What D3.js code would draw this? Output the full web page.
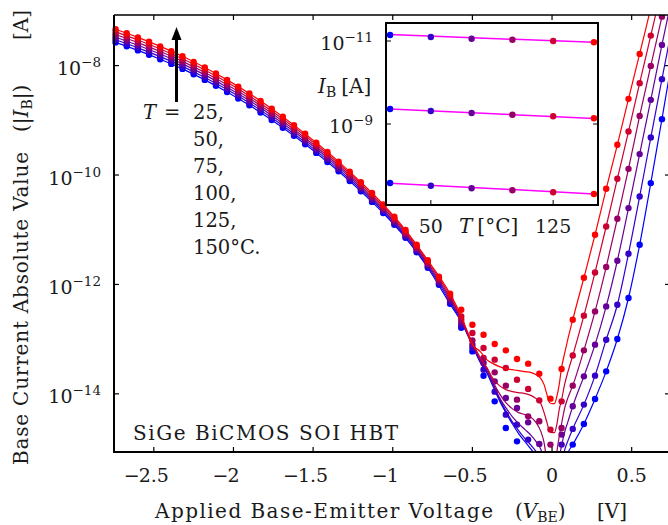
<!DOCTYPE html>
<html>
<head>
<meta charset="utf-8">
<script src="https://cdn.jsdelivr.net/npm/d3@7"></script>
<style>
  body { margin: 0; background: #fff; }
  svg text { font-family: "DejaVu Serif", "Liberation Serif", serif; fill: #1a1a1a; }
</style>
</head>
<body>
<svg id="chart" width="668" height="525"></svg>
<script>
// ---- measured base current, log10(|I_B| / A), per temperature ----
const temps = [25, 50, 75, 100, 125, 150];
const vMeas = [-2.74, -2.67, -2.60, -2.53, -2.46, -2.39, -2.32, -2.25, -2.18, -2.11,
  -2.04, -1.97, -1.90, -1.83, -1.76, -1.69, -1.62, -1.55, -1.48, -1.41,
  -1.34, -1.27, -1.20, -1.13, -1.06, -0.99, -0.92, -0.85, -0.78, -0.71,
  -0.64, -0.57, -0.50, -0.43, -0.36, -0.29, -0.22, -0.15, -0.08, -0.01,
  0.06, 0.13, 0.20, 0.27, 0.34, 0.41, 0.48, 0.55, 0.62, 0.69];

const meas25 = [-7.576, -7.648, -7.722, -7.801, -7.883, -7.969, -8.060, -8.159, -8.261, -8.369,
  -8.482, -8.601, -8.725, -8.857, -8.994, -9.136, -9.284, -9.437, -9.596, -9.761,
  -9.932, -10.111, -10.298, -10.491, -10.694, -10.910, -11.147, -11.412, -11.695, -12.006,
  -12.353, -12.791, -13.224, -13.668, -14.137, -14.623, -14.868, -15.30, -15.50, -15.60,
  -15.30, -14.928, -14.550, -14.093, -13.589, -12.997, -12.248, -11.275, -10.148, -8.979];
const meas50 = [-7.528, -7.600, -7.675, -7.754, -7.836, -7.923, -8.014, -8.113, -8.216, -8.324,
  -8.438, -8.558, -8.682, -8.815, -8.953, -9.096, -9.245, -9.399, -9.559, -9.725,
  -9.897, -10.077, -10.265, -10.459, -10.663, -10.881, -11.119, -11.385, -11.668, -11.977,
  -12.317, -12.754, -13.156, -13.558, -13.960, -14.380, -14.563, -14.836, -15.20, -15.40,
  -14.928, -14.641, -14.197, -13.667, -13.010, -12.371, -11.439, -10.393, -9.315, -8.248];
const meas75 = [-7.480, -7.552, -7.627, -7.707, -7.789, -7.876, -7.968, -8.068, -8.170, -8.279,
  -8.394, -8.514, -8.640, -8.773, -8.912, -9.056, -9.206, -9.360, -9.521, -9.688,
  -9.861, -10.042, -10.232, -10.427, -10.632, -10.852, -11.091, -11.357, -11.640, -11.948,
  -12.280, -12.705, -13.101, -13.436, -13.772, -14.075, -14.258, -14.521, -14.915, -15.20,
  -14.745, -14.228, -13.680, -13.101, -12.402, -11.567, -10.605, -9.618, -8.626, -7.622];
const meas100 = [-7.431, -7.504, -7.580, -7.660, -7.743, -7.830, -7.922, -8.022, -8.125, -8.234,
  -8.349, -8.471, -8.597, -8.731, -8.871, -9.015, -9.167, -9.322, -9.484, -9.652,
  -9.826, -10.008, -10.198, -10.395, -10.601, -10.822, -11.063, -11.330, -11.613, -11.918,
  -12.244, -12.645, -13.023, -13.344, -13.607, -13.850, -14.106, -14.411, -14.502, -14.928,
  -14.623, -13.850, -13.205, -12.493, -11.682, -10.800, -9.887, -8.919, -8.005, -7.105];
const meas125 = [-7.383, -7.457, -7.532, -7.613, -7.696, -7.783, -7.876, -7.977, -8.080, -8.189,
  -8.305, -8.427, -8.554, -8.689, -8.830, -8.975, -9.128, -9.284, -9.447, -9.615,
  -9.790, -9.974, -10.165, -10.362, -10.570, -10.793, -11.035, -11.302, -11.585, -11.889,
  -12.207, -12.584, -12.888, -13.162, -13.375, -13.527, -13.741, -13.910, -14.119, -14.654,
  -14.137, -13.300, -12.571, -11.781, -10.941, -10.069, -9.205, -8.321, -7.452, -6.600];
const meas150 = [-7.335, -7.409, -7.485, -7.565, -7.649, -7.737, -7.830, -7.931, -8.034, -8.144,
  -8.261, -8.384, -8.511, -8.647, -8.789, -8.935, -9.089, -9.245, -9.410, -9.578,
  -9.755, -9.939, -10.132, -10.330, -10.539, -10.764, -11.006, -11.275, -11.558, -11.860,
  -12.170, -12.462, -12.736, -12.919, -13.089, -13.205, -13.363, -13.448, -13.631, -14.088,
  -13.545, -12.645, -11.878, -11.092, -10.252, -9.448, -8.608, -7.786, -6.950, -6.100];

// ---- model curves, log10(|I_B| / A) ----
const vFit = [-2.74, -2.60, -2.46, -2.32, -2.18, -2.04, -1.90, -1.76, -1.62, -1.48,
  -1.34, -1.20, -1.06, -0.92, -0.78, -0.64, -0.57, -0.50, -0.45, -0.41,
  -0.37, -0.33, -0.29, -0.25, -0.21, -0.17, -0.13, -0.10, -0.07, -0.05,
  -0.03, -0.015, 0.0, 0.015, 0.03, 0.045, 0.06, 0.08, 0.10, 0.13,
  0.20, 0.27, 0.34, 0.41, 0.48, 0.55, 0.62, 0.69, 0.76];

const fit25 = [-7.576, -7.722, -7.883, -8.060, -8.261, -8.482, -8.725, -8.994, -9.284, -9.596,
  -9.932, -10.298, -10.694, -11.147, -11.695, -12.36, -12.681, -13.120, -13.430, -13.613,
  -13.868, -14.124, -14.343, -14.544, -14.727, -14.873, -15.019, -15.129, -15.311, -15.476,
  -15.713, -15.896, -16.115, -16.024, -15.841, -15.659, -15.476, -15.238, -15.074, -14.928,
  -14.550, -14.093, -13.589, -12.997, -12.248, -11.275, -10.148, -8.979, -7.78];
const fit50 = [-7.528, -7.675, -7.836, -8.014, -8.216, -8.438, -8.682, -8.953, -9.245, -9.559,
  -9.897, -10.265, -10.663, -11.119, -11.668, -12.317, -12.663, -13.101, -13.412, -13.595,
  -13.832, -14.088, -14.307, -14.508, -14.672, -14.818, -14.946, -15.056, -15.238, -15.421,
  -15.659, -15.841, -16.024, -15.932, -15.750, -15.476, -15.257, -15.019, -14.855, -14.641,
  -14.197, -13.667, -13.010, -12.371, -11.439, -10.393, -9.315, -8.248, -7.20];
const fit75 = [-7.480, -7.627, -7.789, -7.968, -8.170, -8.394, -8.640, -8.912, -9.206, -9.521,
  -9.861, -10.232, -10.632, -11.091, -11.640, -12.280, -12.645, -13.101, -13.394, -13.558,
  -13.814, -14.069, -14.252, -14.416, -14.544, -14.654, -14.763, -14.873, -15.019, -15.202,
  -15.476, -15.750, -15.932, -15.750, -15.476, -15.165, -14.946, -14.690, -14.508, -14.228,
  -13.680, -13.101, -12.402, -11.567, -10.605, -9.618, -8.626, -7.622, -6.65];
const fit100 = [-7.431, -7.580, -7.743, -7.922, -8.125, -8.349, -8.597, -8.871, -9.167, -9.484,
  -9.826, -10.198, -10.601, -11.063, -11.613, -12.244, -12.626, -13.083, -13.375, -13.521,
  -13.777, -13.996, -14.161, -14.270, -14.343, -14.380, -14.435, -14.526, -14.690, -14.891,
  -15.293, -15.567, -15.750, -15.567, -15.074, -14.782, -14.544, -14.252, -14.069, -13.850,
  -13.205, -12.493, -11.682, -10.800, -9.887, -8.919, -8.005, -7.105, -6.20];
const fit125 = [-7.383, -7.532, -7.696, -7.876, -8.080, -8.305, -8.554, -8.830, -9.128, -9.447,
  -9.790, -10.165, -10.570, -11.035, -11.585, -12.207, -12.608, -13.065, -13.339, -13.521,
  -13.722, -13.850, -13.923, -13.960, -13.978, -13.996, -14.033, -14.088, -14.179, -14.343,
  -14.544, -14.690, -14.709, -14.709, -14.563, -14.289, -14.106, -13.814, -13.595, -13.300,
  -12.571, -11.781, -10.941, -10.069, -9.205, -8.321, -7.452, -6.581, -5.75];
const fit150 = [-7.335, -7.485, -7.649, -7.830, -8.034, -8.261, -8.511, -8.789, -9.089, -9.410,
  -9.755, -10.132, -10.539, -11.006, -11.558, -12.170, -12.572, -13.101, -13.229, -13.375,
  -13.448, -13.503, -13.540, -13.558, -13.576, -13.595, -13.613, -13.649, -13.722, -13.832,
  -14.033, -14.161, -14.179, -14.179, -14.051, -13.832, -13.521, -13.248, -12.992, -12.645,
  -11.878, -11.092, -10.252, -9.448, -8.608, -7.786, -6.946, -6.106, -5.30];

// ---- inset: I_B versus temperature at three bias points ----
const insetT = [25, 50, 75, 100, 125, 150];
const insetLow = [-11.145, -11.096, -11.055, -11.031, -11.000, -10.969];
const insetMid = [-9.361, -9.313, -9.265, -9.224, -9.186, -9.137];
const insetHigh = [-7.578, -7.513, -7.451, -7.402, -7.354, -7.313];
const insetFitT = [25, 150];
const insetFitLow = [-11.155, -10.968];
const insetFitMid = [-9.360, -9.135];
const insetFitHigh = [-7.575, -7.315];

// ---- ticks ----
const xTicks = [-2.5, -2, -1.5, -1, -0.5, 0, 0.5];
const yTickExp = [-8, -10, -12, -14];
const insetXTicks = [50, 125];
const insetYTickExp = [-11, -9];

const measured = [meas25, meas50, meas75, meas100, meas125, meas150];
const fitted = [fit25, fit50, fit75, fit100, fit125, fit150];

const svg = d3.select("#chart");
const P = { left: 114, right: 670, top: 15, bottom: 452 };

const x = d3.scaleLinear().domain([-2.75, 0.75]).range([114, 671.5]);
const y = d3.scaleLog().domain([Math.pow(10, -15.063), Math.pow(10, -7.075)]).range([452, 15]);
const color = i => d3.interpolateRgb("rgb(0,0,255)", "rgb(255,0,0)")(i / (temps.length - 1));

svg.append("defs").append("clipPath").attr("id", "plotClip")
  .append("rect").attr("x", 108).attr("y", P.top).attr("width", P.right - 108).attr("height", P.bottom - P.top);

const plot = svg.append("g").attr("clip-path", "url(#plotClip)");
const line = d3.line()
  .x(d => x(d[0]))
  .y(d => y(Math.pow(10, d[1])))
  .curve(d3.curveMonotoneX);

temps.forEach((t, i) => {
  const c = color(i);
  plot.append("path")
    .datum(vFit.map((v, j) => [v, fitted[i][j]]))
    .attr("d", line)
    .attr("fill", "none")
    .attr("stroke", c)
    .attr("stroke-width", 1.2);
  plot.append("g").selectAll("circle")
    .data(vMeas.map((v, j) => [v, measured[i][j]]))
    .join("circle")
    .attr("cx", d => x(d[0]))
    .attr("cy", d => y(Math.pow(10, d[1])))
    .attr("r", 3.2)
    .attr("fill", c);
});

// ---- frame and ticks ----
const frame = svg.append("g").attr("stroke", "#000").attr("fill", "none");
frame.append("line").attr("x1", P.left).attr("x2", P.left).attr("y1", P.top).attr("y2", P.bottom + 1).attr("stroke-width", 2);
frame.append("line").attr("x1", P.left - 1).attr("x2", P.right).attr("y1", P.bottom).attr("y2", P.bottom).attr("stroke-width", 2);
frame.append("line").attr("x1", P.left).attr("x2", P.right).attr("y1", P.top).attr("y2", P.top).attr("stroke-width", 1.5);
frame.append("line").attr("x1", P.right).attr("x2", P.right).attr("y1", P.top).attr("y2", P.bottom).attr("stroke-width", 1.5);

xTicks.forEach(v => {
  frame.append("line").attr("x1", x(v)).attr("x2", x(v)).attr("y1", P.bottom).attr("y2", P.bottom - 5).attr("stroke-width", 1.2);
  frame.append("line").attr("x1", x(v)).attr("x2", x(v)).attr("y1", P.top).attr("y2", P.top + 5).attr("stroke-width", 1.2);
});
yTickExp.forEach(e => {
  const yy = y(Math.pow(10, e));
  frame.append("line").attr("x1", P.left).attr("x2", P.left + 5).attr("y1", yy).attr("y2", yy).attr("stroke-width", 1.2);
  frame.append("line").attr("x1", P.right).attr("x2", P.right - 5).attr("y1", yy).attr("y2", yy).attr("stroke-width", 1.2);
});

const fmt = d3.format("");
const txt = svg.append("g").attr("font-size", 19);

// x tick labels: the digits sit centred on the tick, a minus sign hangs to the left
xTicks.forEach(v => {
  const t = txt.append("text").attr("x", x(v)).attr("y", 482).attr("text-anchor", "middle").text(fmt(Math.abs(v)));
  if (v < 0) {
    const w = t.node().getComputedTextLength();
    txt.append("text").attr("x", x(v) - w / 2 + 1).attr("y", 482).attr("text-anchor", "end").text("\u2212");
  }
});
function powerLabel(g, xx, yy, exp) {
  const t = g.append("text").attr("x", xx).attr("y", yy).attr("text-anchor", "end");
  t.append("tspan").text("10");
  t.append("tspan").attr("font-size", 13.5).attr("dy", -8).text("\u2212" + Math.abs(exp));
  return t;
}
yTickExp.forEach(e => powerLabel(txt, 101, y(Math.pow(10, e)) + 9.5, e));

// axis titles
const lab = svg.append("g").attr("font-size", 20);
lab.append("text").attr("x", 155).attr("y", 518)
  .attr("textLength", 338).attr("lengthAdjust", "spacing")
  .text("Applied Base-Emitter Voltage");
const xv = lab.append("text").attr("x", 515).attr("y", 518);
xv.append("tspan").text("(");
xv.append("tspan").attr("font-style", "italic").text("V");
xv.append("tspan").attr("font-size", 14).attr("dy", 4).text("BE");
xv.append("tspan").attr("dy", -4).text(")");
lab.append("text").attr("x", 597).attr("y", 518).text("[V]");

const yLab = lab.append("g").attr("transform", "translate(28,465) rotate(-90)");
yLab.append("text").attr("x", 0).attr("y", 0)
  .attr("textLength", 313).attr("lengthAdjust", "spacing")
  .text("Base Current Absolute Value");
const yi2 = yLab.append("text").attr("x", 333).attr("y", 0);
yi2.append("tspan").text("(|");
yi2.append("tspan").attr("font-style", "italic").text("I");
yi2.append("tspan").attr("font-size", 14).attr("dy", 4).text("B");
yi2.append("tspan").attr("dy", -4).text("|)");
yLab.append("text").attr("x", 425).attr("y", 0).text("[A]");

// temperature annotation
svg.append("line").attr("x1", 176.5).attr("x2", 176.5).attr("y1", 102).attr("y2", 38)
  .attr("stroke", "#000").attr("stroke-width", 3);
svg.append("path").attr("d", "M176.5,27 L171.5,40 L181.5,40 Z").attr("fill", "#000");
const legG = svg.append("g").attr("font-size", 19.5);
const leg = legG.append("text").attr("x", 143).attr("y", 119);
leg.append("tspan").attr("font-style", "italic").text("T");
leg.append("tspan").attr("x", 164).text("=");
leg.append("tspan").attr("x", 193).text(temps[0] + ",");
temps.slice(1).forEach((t, i) => {
  const last = i === temps.length - 2;
  legG.append("text").attr("x", 193).attr("y", 146 + 27 * i).text(last ? t + "\u00B0C." : t + ",");
});

lab.append("text").attr("x", 133).attr("y", 440)
  .attr("textLength", 265).attr("lengthAdjust", "spacing")
  .text("SiGe BiCMOS SOI HBT");

// ---- inset ----
const I = { left: 386, right: 598, top: 23, bottom: 205 };
const xi = d3.scaleLinear().domain([22.5, 152.5]).range([I.left, I.right]);
const yi = d3.scaleLog().domain([Math.pow(10, -11.434), Math.pow(10, -7.048)]).range([I.top, I.bottom]);
const inset = svg.append("g");
inset.append("rect").attr("x", I.left).attr("y", I.top).attr("width", I.right - I.left).attr("height", I.bottom - I.top)
  .attr("fill", "#fff").attr("stroke", "#000").attr("stroke-width", 2);
insetXTicks.forEach(t => {
  inset.append("line").attr("x1", xi(t)).attr("x2", xi(t)).attr("y1", I.bottom).attr("y2", I.bottom - 5).attr("stroke", "#000");
});
insetYTickExp.forEach(e => {
  const yy = yi(Math.pow(10, e));
  inset.append("line").attr("x1", I.left).attr("x2", I.left + 5).attr("y1", yy).attr("y2", yy).attr("stroke", "#000");
  inset.append("line").attr("x1", I.right).attr("x2", I.right - 5).attr("y1", yy).attr("y2", yy).attr("stroke", "#000");
});
const iline = d3.line().x(d => xi(d[0])).y(d => yi(Math.pow(10, d[1])));
[[insetFitLow, insetLow], [insetFitMid, insetMid], [insetFitHigh, insetHigh]].forEach(([fitv, pts]) => {
  inset.append("path").datum(insetFitT.map((t, j) => [t, fitv[j]])).attr("d", iline)
    .attr("fill", "none").attr("stroke", "#ff00ff").attr("stroke-width", 1.5);
  inset.append("g").selectAll("circle").data(insetT.map((t, j) => [t, pts[j], j])).join("circle")
    .attr("cx", d => xi(d[0])).attr("cy", d => yi(Math.pow(10, d[1]))).attr("r", 3.2)
    .attr("fill", d => color(d[2]));
});
insetXTicks.forEach(t => {
  txt.append("text").attr("x", xi(t)).attr("y", 233).attr("text-anchor", "middle").text(t);
});
insetYTickExp.forEach(e => powerLabel(txt, 373, yi(Math.pow(10, e)) + 9, e));
const it = lab.append("text").attr("x", 459).attr("y", 233);
it.append("tspan").attr("font-style", "italic").text("T");
it.append("tspan").attr("dx", 5).text("[\u00B0C]");
const iy = lab.append("text").attr("x", 318).attr("y", 93);
iy.append("tspan").attr("font-style", "italic").text("I");
iy.append("tspan").attr("font-size", 14).attr("dy", 4).text("B");
iy.append("tspan").attr("dy", -4).attr("dx", 5).text("[A]");
</script>
</body>
</html>
